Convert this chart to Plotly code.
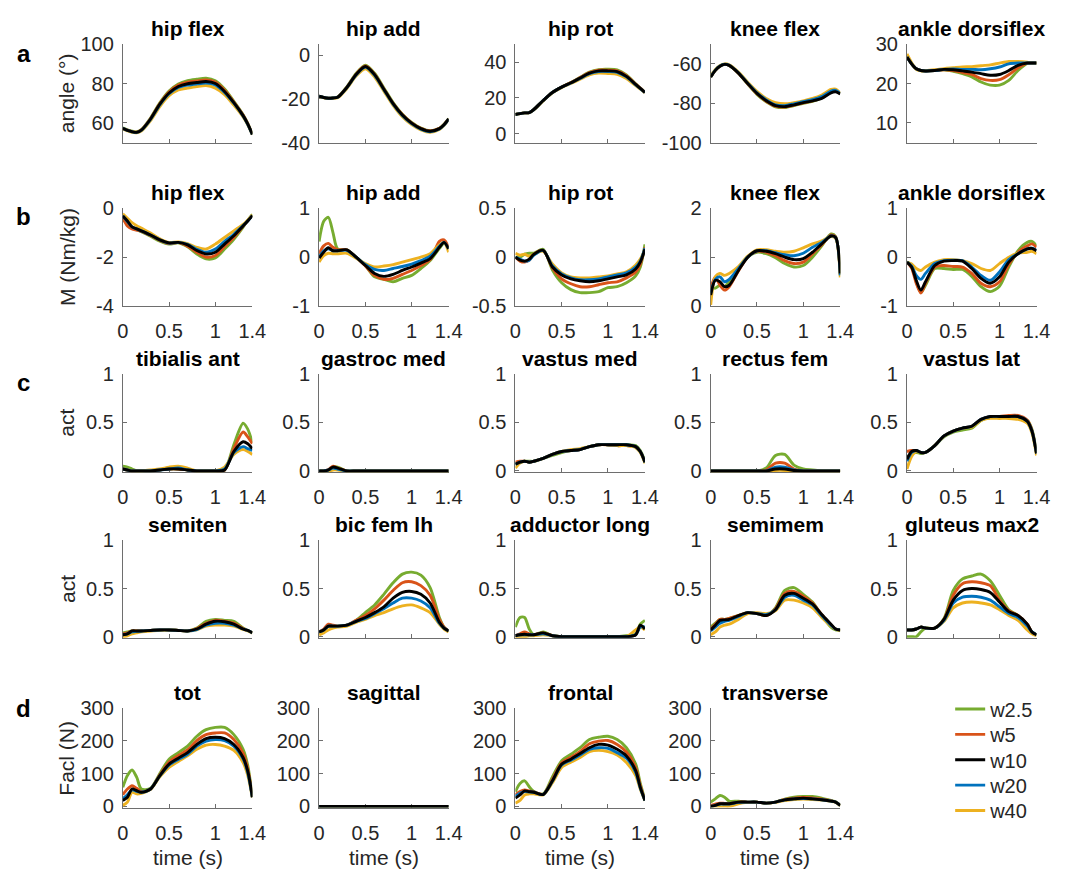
import plotly.graph_objects as go

# ---------------- data ----------------
T = [0, 0.05, 0.1, 0.15, 0.2, 0.3, 0.4, 0.5, 0.6, 0.7, 0.8, 0.9, 1.0, 1.1, 1.2, 1.3, 1.35, 1.4]
SERIES = ["w2.5", "w5", "w10", "w20", "w40"]
COLORS = {"w2.5": "#77AC30", "w5": "#D95319", "w10": "#000000", "w20": "#0072BD", "w40": "#EDB120"}
DRAW_ORDER = ["w2.5", "w5", "w40", "w20", "w10"]
X_TICKS = [0, 0.5, 1, 1.4]
X_TICKTEXT = ["0", "0.5", "1", "1.4"]

# a: joint angles (deg)
angle_hip_flex = {
    "w2.5": [57.5, 56.5, 55.8, 55.5, 56.6, 62.5, 70.2, 76.2, 79.8, 81.5, 82.2, 82.7, 81.4, 77.2, 71.0, 64.2, 59.8, 54.3],
    "w5":   [57.3, 56.3, 55.6, 55.3, 56.4, 62.2, 69.8, 75.7, 79.2, 80.7, 81.3, 81.8, 80.7, 76.6, 70.6, 64.0, 59.6, 54.2],
    "w10":  [57.2, 56.2, 55.5, 55.2, 56.3, 62.0, 69.5, 75.2, 78.5, 79.9, 80.5, 81.0, 80.0, 76.0, 70.3, 63.7, 59.5, 54.1],
    "w20":  [57.2, 56.2, 55.5, 55.2, 56.2, 61.8, 69.2, 74.8, 78.0, 79.2, 79.8, 80.2, 79.3, 75.5, 70.0, 63.5, 59.3, 54.1],
    "w40":  [57.0, 56.0, 55.2, 55.0, 55.9, 61.2, 68.3, 73.8, 76.8, 77.7, 78.5, 79.0, 77.7, 74.4, 69.0, 63.0, 59.0, 54.0],
}
angle_hip_add = {
    "w2.5": [-18.8, -19.4, -19.7, -19.6, -19.2, -14.5, -8.4, -4.6, -8.3, -15.0, -21.7, -27.0, -30.8, -33.4, -34.6, -33.4, -31.6, -29.0],
    "w5":   [-18.8, -19.4, -19.7, -19.6, -19.3, -14.7, -8.7, -5.0, -8.7, -15.4, -22.0, -27.2, -31.0, -33.5, -34.7, -33.5, -31.7, -29.1],
    "w10":  [-18.8, -19.4, -19.7, -19.6, -19.3, -14.8, -8.9, -5.2, -8.9, -15.6, -22.2, -27.4, -31.1, -33.6, -34.8, -33.6, -31.8, -29.2],
    "w20":  [-18.8, -19.4, -19.7, -19.6, -19.3, -14.9, -9.1, -5.5, -9.2, -15.8, -22.4, -27.6, -31.3, -33.8, -35.0, -33.8, -32.0, -29.3],
    "w40":  [-18.9, -19.5, -19.8, -19.7, -19.5, -15.3, -9.6, -6.3, -10.0, -16.5, -23.0, -28.2, -31.8, -34.2, -35.3, -34.0, -32.2, -29.5],
}
angle_hip_rot = {
    "w2.5": [10.7, 11.2, 11.6, 11.8, 13.5, 18.5, 23.0, 26.0, 28.6, 31.5, 34.4, 35.8, 36.0, 35.6, 32.8, 27.8, 25.5, 23.1],
    "w5":   [10.7, 11.2, 11.6, 11.8, 13.5, 18.5, 23.0, 26.0, 28.5, 31.3, 34.1, 35.5, 35.5, 35.1, 32.4, 27.7, 25.4, 23.0],
    "w10":  [10.7, 11.2, 11.6, 11.8, 13.5, 18.5, 23.0, 26.0, 28.4, 31.1, 33.8, 35.1, 35.1, 34.7, 32.0, 27.5, 25.3, 23.0],
    "w20":  [10.7, 11.2, 11.6, 11.8, 13.5, 18.5, 23.0, 26.0, 28.3, 30.9, 33.5, 34.7, 34.7, 34.3, 31.7, 27.3, 25.2, 23.0],
    "w40":  [10.7, 11.2, 11.6, 11.8, 13.4, 18.3, 22.8, 25.7, 28.0, 30.4, 32.8, 33.8, 33.6, 33.2, 30.8, 26.8, 24.9, 22.9],
}
angle_knee_flex = {
    "w2.5": [-66.7, -63.3, -61.2, -60.3, -60.8, -64.8, -70.3, -75.5, -79.3, -81.8, -82.2, -81.2, -80.0, -79.0, -77.3, -74.3, -73.8, -75.0],
    "w5":   [-66.7, -63.3, -61.2, -60.3, -60.8, -64.7, -70.1, -75.2, -79.0, -81.5, -81.9, -81.0, -79.8, -78.8, -77.2, -74.3, -73.8, -75.1],
    "w10":  [-66.7, -63.3, -61.2, -60.3, -60.8, -64.7, -70.0, -75.0, -78.7, -81.2, -81.7, -80.8, -79.7, -78.8, -77.5, -74.7, -74.2, -75.3],
    "w20":  [-66.6, -63.2, -61.1, -60.2, -60.7, -64.5, -69.8, -74.7, -78.3, -80.8, -81.2, -80.3, -79.2, -78.2, -76.6, -73.8, -73.5, -75.0],
    "w40":  [-66.2, -62.9, -60.9, -60.0, -60.5, -64.2, -69.3, -74.0, -77.6, -79.7, -80.3, -79.7, -78.8, -77.6, -75.8, -73.0, -72.8, -74.8],
}
angle_ankle_df = {
    "w2.5": [26.7, 25.0, 23.75, 23.3, 23.2, 23.3, 23.5, 23.1, 22.5, 21.7, 20.4, 19.6, 19.6, 20.8, 23.3, 25.1, 25.2, 25.2],
    "w5":   [26.7, 25.0, 23.75, 23.3, 23.2, 23.3, 23.5, 23.3, 22.8, 22.3, 21.25, 20.8, 21.0, 22.25, 24.0, 25.2, 25.2, 25.2],
    "w10":  [26.7, 25.0, 23.75, 23.3, 23.2, 23.3, 23.6, 23.5, 23.2, 22.9, 22.5, 22.1, 22.3, 23.3, 24.6, 25.2, 25.2, 25.2],
    "w20":  [26.7, 25.0, 23.75, 23.3, 23.2, 23.3, 23.6, 23.7, 23.6, 23.6, 23.5, 23.75, 24.2, 25.0, 25.2, 25.2, 25.2, 25.2],
    "w40":  [27.5, 25.3, 23.6, 23.2, 23.3, 23.5, 23.8, 24.0, 24.2, 24.3, 24.5, 24.75, 25.2, 25.6, 25.6, 25.4, 25.2, 25.2],
}

# b: joint moments (Nm/kg)
mom_hip_flex = {
    "w2.5": [-0.47, -0.62, -0.80, -0.88, -0.97, -1.15, -1.35, -1.47, -1.42, -1.58, -1.87, -2.07, -2.03, -1.67, -1.27, -0.78, -0.50, -0.26],
    "w5":   [-0.40, -0.73, -0.85, -0.90, -0.95, -1.12, -1.32, -1.45, -1.41, -1.55, -1.80, -2.00, -1.93, -1.57, -1.20, -0.75, -0.52, -0.30],
    "w10":  [-0.33, -0.53, -0.77, -0.85, -0.93, -1.10, -1.30, -1.42, -1.40, -1.50, -1.73, -1.87, -1.80, -1.47, -1.13, -0.73, -0.53, -0.31],
    "w20":  [-0.33, -0.55, -0.77, -0.85, -0.93, -1.10, -1.30, -1.43, -1.40, -1.48, -1.68, -1.80, -1.67, -1.36, -1.07, -0.72, -0.53, -0.31],
    "w40":  [-0.24, -0.42, -0.60, -0.72, -0.82, -1.02, -1.25, -1.40, -1.38, -1.45, -1.60, -1.67, -1.47, -1.20, -0.93, -0.67, -0.50, -0.30],
}
mom_hip_add = {
    "w2.5": [0.32, 0.73, 0.81, 0.50, 0.17, 0.15, 0.00, -0.17, -0.40, -0.45, -0.50, -0.43, -0.37, -0.23, -0.07, 0.18, 0.28, 0.20],
    "w5":   [0.07, 0.23, 0.28, 0.20, 0.15, 0.15, 0.00, -0.18, -0.37, -0.45, -0.43, -0.35, -0.27, -0.17, -0.05, 0.32, 0.35, 0.20],
    "w10":  [-0.02, 0.10, 0.19, 0.13, 0.13, 0.15, 0.00, -0.17, -0.33, -0.39, -0.35, -0.27, -0.20, -0.12, -0.03, 0.20, 0.30, 0.17],
    "w20":  [0.00, 0.13, 0.17, 0.13, 0.13, 0.14, 0.00, -0.15, -0.25, -0.27, -0.23, -0.19, -0.14, -0.07, 0.02, 0.22, 0.30, 0.17],
    "w40":  [-0.10, 0.03, 0.08, 0.07, 0.07, 0.08, -0.02, -0.13, -0.20, -0.18, -0.15, -0.10, -0.05, 0.00, 0.07, 0.25, 0.30, 0.10],
}
mom_hip_rot = {
    "w2.5": [0.00, 0.00, 0.03, 0.04, 0.04, 0.08, -0.13, -0.26, -0.33, -0.36, -0.36, -0.35, -0.31, -0.30, -0.26, -0.19, -0.10, 0.13],
    "w5":   [0.00, -0.04, -0.05, -0.03, 0.03, 0.07, -0.11, -0.22, -0.27, -0.30, -0.30, -0.28, -0.26, -0.25, -0.21, -0.15, -0.07, 0.10],
    "w10":  [0.00, -0.03, -0.04, -0.02, 0.03, 0.07, -0.10, -0.18, -0.22, -0.24, -0.25, -0.24, -0.22, -0.20, -0.18, -0.12, -0.05, 0.08],
    "w20":  [0.00, -0.02, -0.04, -0.03, 0.02, 0.07, -0.09, -0.17, -0.21, -0.23, -0.23, -0.22, -0.20, -0.18, -0.16, -0.10, -0.04, 0.09],
    "w40":  [0.04, 0.02, 0.03, 0.01, 0.03, 0.06, -0.07, -0.16, -0.20, -0.21, -0.21, -0.20, -0.19, -0.17, -0.15, -0.08, -0.02, 0.08],
}
mom_knee_flex = {
    "w2.5": [0.40, 0.37, 0.43, 0.40, 0.50, 0.77, 1.00, 1.10, 1.07, 0.99, 0.87, 0.80, 0.83, 1.00, 1.23, 1.47, 1.42, 0.65],
    "w5":   [0.37, 0.60, 0.43, 0.33, 0.40, 0.72, 1.00, 1.12, 1.10, 1.03, 0.93, 0.87, 0.90, 1.07, 1.25, 1.45, 1.41, 0.65],
    "w10":  [0.23, 0.53, 0.50, 0.40, 0.43, 0.73, 1.00, 1.13, 1.12, 1.07, 1.00, 0.95, 0.97, 1.10, 1.27, 1.43, 1.40, 0.67],
    "w20":  [0.27, 0.55, 0.60, 0.50, 0.55, 0.77, 1.00, 1.13, 1.13, 1.09, 1.05, 1.03, 1.08, 1.20, 1.30, 1.43, 1.40, 0.63],
    "w40":  [0.03, 0.60, 0.67, 0.63, 0.67, 0.81, 1.02, 1.15, 1.15, 1.12, 1.10, 1.12, 1.19, 1.27, 1.33, 1.42, 1.38, 0.59],
}
mom_ankle_df = {
    "w2.5": [-0.10, -0.15, -0.50, -0.72, -0.57, -0.23, -0.23, -0.25, -0.25, -0.39, -0.60, -0.70, -0.59, -0.20, 0.13, 0.30, 0.32, 0.23],
    "w5":   [-0.10, -0.22, -0.53, -0.73, -0.53, -0.20, -0.17, -0.19, -0.20, -0.33, -0.53, -0.60, -0.50, -0.15, 0.10, 0.23, 0.27, 0.20],
    "w10":  [-0.10, -0.20, -0.47, -0.67, -0.50, -0.17, -0.08, -0.07, -0.08, -0.23, -0.43, -0.53, -0.40, -0.10, 0.07, 0.17, 0.18, 0.13],
    "w20":  [-0.10, -0.18, -0.37, -0.45, -0.33, -0.13, -0.07, -0.06, -0.07, -0.20, -0.37, -0.47, -0.30, -0.05, 0.07, 0.17, 0.18, 0.14],
    "w40":  [-0.10, -0.14, -0.23, -0.27, -0.20, -0.10, -0.05, -0.05, -0.07, -0.13, -0.23, -0.27, -0.13, 0.00, 0.08, 0.10, 0.12, 0.07],
}

# c: muscle activations
act_tib_ant = {
    "w2.5": [0.05, 0.04, 0.02, 0.00, 0.00, 0.00, 0.01, 0.02, 0.02, 0.01, 0.00, 0.00, 0.00, 0.01, 0.27, 0.49, 0.43, 0.29],
    "w5":   [0.02, 0.01, 0.00, 0.00, 0.00, 0.00, 0.01, 0.02, 0.02, 0.01, 0.00, 0.00, 0.00, 0.01, 0.23, 0.40, 0.35, 0.28],
    "w10":  [0.02, 0.01, 0.00, 0.00, 0.00, 0.00, 0.01, 0.02, 0.02, 0.01, 0.00, 0.00, 0.00, 0.01, 0.20, 0.30, 0.28, 0.23],
    "w20":  [0.02, 0.01, 0.00, 0.00, 0.00, 0.00, 0.01, 0.02, 0.03, 0.01, 0.00, 0.00, 0.00, 0.02, 0.19, 0.25, 0.23, 0.21],
    "w40":  [0.02, 0.01, 0.00, 0.00, 0.00, 0.01, 0.02, 0.04, 0.05, 0.03, 0.00, 0.00, 0.00, 0.04, 0.17, 0.22, 0.20, 0.17],
}
act_gastroc_med = {
    "w2.5": [0, 0, 0.010, 0.045, 0.040, 0, 0, 0, 0, 0, 0, 0, 0, 0, 0, 0, 0, 0],
    "w5":   [0, 0, 0.015, 0.050, 0.030, 0, 0, 0, 0, 0, 0, 0, 0, 0, 0, 0, 0, 0],
    "w10":  [0, 0, 0.010, 0.040, 0.030, 0, 0, 0, 0, 0, 0, 0, 0, 0, 0, 0, 0, 0],
    "w20":  [0, 0, 0.010, 0.030, 0.020, 0, 0, 0, 0, 0, 0, 0, 0, 0, 0, 0, 0, 0],
    "w40":  [0, 0, 0.000, 0.010, 0.010, 0, 0, 0, 0, 0, 0, 0, 0, 0, 0, 0, 0, 0],
}
act_vastus_med = {
    "w2.5": [0.07, 0.09, 0.10, 0.10, 0.10, 0.13, 0.16, 0.19, 0.21, 0.22, 0.25, 0.27, 0.27, 0.27, 0.27, 0.26, 0.21, 0.10],
    "w5":   [0.09, 0.10, 0.10, 0.09, 0.10, 0.13, 0.17, 0.20, 0.21, 0.22, 0.25, 0.27, 0.27, 0.26, 0.26, 0.25, 0.20, 0.09],
    "w10":  [0.07, 0.09, 0.10, 0.09, 0.10, 0.13, 0.17, 0.20, 0.21, 0.22, 0.25, 0.27, 0.27, 0.27, 0.27, 0.25, 0.20, 0.09],
    "w20":  [0.07, 0.09, 0.10, 0.09, 0.10, 0.13, 0.17, 0.20, 0.21, 0.22, 0.25, 0.27, 0.27, 0.27, 0.27, 0.25, 0.20, 0.09],
    "w40":  [0.03, 0.08, 0.10, 0.09, 0.10, 0.13, 0.17, 0.20, 0.22, 0.23, 0.25, 0.27, 0.27, 0.26, 0.26, 0.24, 0.19, 0.08],
}
act_rectus_fem = {
    "w2.5": [0, 0, 0, 0, 0, 0, 0, 0, 0.03, 0.16, 0.17, 0.06, 0.02, 0.01, 0, 0, 0, 0],
    "w5":   [0, 0, 0, 0, 0, 0, 0, 0, 0.01, 0.08, 0.08, 0.02, 0.00, 0.00, 0, 0, 0, 0],
    "w10":  [0, 0, 0, 0, 0, 0, 0, 0, 0.00, 0.02, 0.02, 0.005, 0.00, 0.00, 0, 0, 0, 0],
    "w20":  [0, 0, 0, 0, 0, 0, 0, 0, 0.00, 0.04, 0.04, 0.01, 0.00, 0.00, 0, 0, 0, 0],
    "w40":  [0, 0, 0, 0, 0, 0, 0, 0, 0.00, 0.005, 0.005, 0.00, 0.00, 0.00, 0, 0, 0, 0],
}
act_vastus_lat = {
    "w2.5": [0.14, 0.18, 0.19, 0.18, 0.19, 0.26, 0.35, 0.40, 0.42, 0.44, 0.52, 0.55, 0.55, 0.55, 0.55, 0.52, 0.43, 0.19],
    "w5":   [0.20, 0.21, 0.21, 0.19, 0.19, 0.26, 0.36, 0.41, 0.44, 0.46, 0.53, 0.56, 0.56, 0.57, 0.57, 0.52, 0.42, 0.18],
    "w10":  [0.12, 0.20, 0.21, 0.19, 0.19, 0.26, 0.36, 0.41, 0.44, 0.46, 0.53, 0.56, 0.56, 0.56, 0.56, 0.51, 0.41, 0.18],
    "w20":  [0.10, 0.19, 0.21, 0.19, 0.19, 0.26, 0.36, 0.41, 0.44, 0.46, 0.53, 0.56, 0.56, 0.56, 0.56, 0.51, 0.41, 0.18],
    "w40":  [0.02, 0.15, 0.20, 0.19, 0.19, 0.26, 0.36, 0.41, 0.44, 0.45, 0.52, 0.54, 0.54, 0.54, 0.53, 0.49, 0.39, 0.16],
}
act_semiten = {
    "w2.5": [0.04, 0.05, 0.06, 0.06, 0.06, 0.065, 0.07, 0.07, 0.065, 0.06, 0.09, 0.16, 0.18, 0.17, 0.16, 0.09, 0.065, 0.04],
    "w5":   [0.03, 0.04, 0.06, 0.06, 0.06, 0.065, 0.07, 0.07, 0.065, 0.06, 0.085, 0.14, 0.17, 0.16, 0.14, 0.085, 0.065, 0.04],
    "w10":  [0.02, 0.03, 0.06, 0.06, 0.06, 0.065, 0.07, 0.07, 0.065, 0.06, 0.08, 0.13, 0.16, 0.155, 0.13, 0.08, 0.065, 0.04],
    "w20":  [0.02, 0.03, 0.05, 0.055, 0.06, 0.065, 0.07, 0.07, 0.065, 0.06, 0.075, 0.12, 0.14, 0.14, 0.12, 0.08, 0.065, 0.04],
    "w40":  [0.00, 0.01, 0.03, 0.04, 0.05, 0.06, 0.065, 0.07, 0.065, 0.06, 0.07, 0.11, 0.12, 0.12, 0.11, 0.075, 0.06, 0.04],
}
act_bic_fem_lh = {
    "w2.5": [0.05, 0.07, 0.11, 0.11, 0.11, 0.12, 0.17, 0.25, 0.33, 0.44, 0.56, 0.65, 0.67, 0.64, 0.51, 0.20, 0.10, 0.06],
    "w5":   [0.05, 0.08, 0.13, 0.12, 0.11, 0.12, 0.17, 0.22, 0.29, 0.38, 0.48, 0.56, 0.57, 0.53, 0.43, 0.18, 0.10, 0.06],
    "w10":  [0.05, 0.07, 0.11, 0.11, 0.11, 0.12, 0.16, 0.20, 0.25, 0.31, 0.40, 0.46, 0.47, 0.44, 0.35, 0.15, 0.09, 0.06],
    "w20":  [0.05, 0.07, 0.11, 0.11, 0.11, 0.12, 0.16, 0.19, 0.24, 0.29, 0.35, 0.40, 0.40, 0.37, 0.30, 0.14, 0.09, 0.06],
    "w40":  [0.02, 0.04, 0.07, 0.09, 0.10, 0.11, 0.15, 0.18, 0.22, 0.25, 0.29, 0.32, 0.33, 0.30, 0.25, 0.13, 0.08, 0.05],
}
act_adductor_long = {
    "w2.5": [0.10, 0.20, 0.20, 0.08, 0.02, 0.05, 0.01, 0, 0, 0, 0, 0, 0, 0, 0.01, 0.03, 0.13, 0.17],
    "w5":   [0.01, 0.03, 0.05, 0.03, 0.02, 0.04, 0.01, 0, 0, 0, 0, 0, 0, 0, 0.00, 0.02, 0.11, 0.09],
    "w10":  [0.01, 0.02, 0.025, 0.02, 0.02, 0.04, 0.01, 0, 0, 0, 0, 0, 0, 0, 0.00, 0.02, 0.12, 0.08],
    "w20":  [0.01, 0.02, 0.02, 0.02, 0.02, 0.03, 0.01, 0, 0, 0, 0, 0, 0, 0, 0.00, 0.02, 0.10, 0.10],
    "w40":  [0.00, 0.00, 0.00, 0.01, 0.01, 0.02, 0.01, 0, 0, 0, 0, 0, 0, 0, 0.00, 0.07, 0.10, 0.07],
}
act_semimem = {
    "w2.5": [0.10, 0.14, 0.18, 0.18, 0.19, 0.22, 0.25, 0.24, 0.22, 0.30, 0.48, 0.51, 0.44, 0.36, 0.22, 0.10, 0.07, 0.07],
    "w5":   [0.08, 0.13, 0.18, 0.18, 0.19, 0.22, 0.25, 0.24, 0.22, 0.29, 0.45, 0.47, 0.42, 0.35, 0.23, 0.12, 0.08, 0.07],
    "w10":  [0.07, 0.12, 0.17, 0.175, 0.18, 0.22, 0.25, 0.24, 0.22, 0.28, 0.43, 0.45, 0.40, 0.34, 0.23, 0.13, 0.08, 0.07],
    "w20":  [0.06, 0.10, 0.14, 0.16, 0.17, 0.21, 0.25, 0.24, 0.23, 0.28, 0.41, 0.43, 0.38, 0.33, 0.22, 0.12, 0.08, 0.07],
    "w40":  [0.02, 0.05, 0.10, 0.12, 0.13, 0.18, 0.24, 0.25, 0.24, 0.27, 0.38, 0.38, 0.35, 0.30, 0.20, 0.11, 0.08, 0.06],
}
act_glut_max2 = {
    "w2.5": [0.00, 0.00, 0.00, 0.05, 0.09, 0.09, 0.19, 0.48, 0.60, 0.63, 0.65, 0.58, 0.43, 0.28, 0.22, 0.12, 0.05, 0.02],
    "w5":   [0.07, 0.07, 0.08, 0.10, 0.09, 0.09, 0.18, 0.43, 0.55, 0.57, 0.56, 0.53, 0.38, 0.27, 0.22, 0.13, 0.05, 0.02],
    "w10":  [0.07, 0.07, 0.08, 0.10, 0.09, 0.09, 0.18, 0.38, 0.48, 0.50, 0.49, 0.46, 0.36, 0.26, 0.22, 0.13, 0.05, 0.02],
    "w20":  [0.07, 0.07, 0.08, 0.10, 0.09, 0.09, 0.17, 0.35, 0.41, 0.42, 0.41, 0.38, 0.31, 0.24, 0.20, 0.11, 0.05, 0.02],
    "w40":  [0.07, 0.07, 0.08, 0.10, 0.09, 0.09, 0.16, 0.30, 0.35, 0.36, 0.35, 0.33, 0.28, 0.22, 0.17, 0.07, 0.03, 0.01],
}

# d: ACL force (N)
facl_tot = {
    "w2.5": [58, 94, 111, 89, 53, 55, 100, 144, 164, 184, 214, 234, 241, 241, 219, 174, 125, 30],
    "w5":   [36, 53, 63, 55, 45, 53, 96, 135, 155, 172, 201, 219, 224, 224, 204, 162, 115, 29],
    "w10":  [18, 28, 53, 48, 43, 53, 94, 129, 147, 164, 189, 207, 211, 207, 189, 149, 108, 28],
    "w20":  [23, 35, 50, 46, 43, 53, 93, 126, 143, 159, 184, 199, 204, 201, 184, 145, 104, 28],
    "w40":  [3, 13, 43, 38, 40, 52, 90, 119, 137, 154, 174, 187, 189, 184, 171, 134, 95, 27],
}
facl_sagittal = {
    "w2.5": [0] * 18,
    "w5":   [0] * 18,
    "w10":  [0] * 18,
    "w20":  [0] * 18,
    "w40":  [0] * 18,
}
facl_frontal = {
    "w2.5": [45, 70, 78, 60, 45, 38, 90, 139, 159, 179, 204, 211, 214, 204, 179, 129, 70, 20],
    "w5":   [35, 45, 50, 47, 44, 37, 82, 133, 150, 168, 191, 199, 201, 189, 166, 118, 63, 19],
    "w10":  [25, 35, 47, 45, 43, 36, 78, 129, 144, 161, 179, 189, 187, 174, 154, 109, 58, 18],
    "w20":  [30, 40, 45, 44, 43, 36, 77, 126, 141, 157, 174, 179, 177, 164, 147, 104, 56, 18],
    "w40":  [10, 18, 35, 38, 38, 35, 72, 119, 135, 149, 167, 171, 167, 157, 134, 94, 52, 17],
}
facl_transverse = {
    "w2.5": [13, 23, 33, 28, 16, 16, 13, 13, 10, 13, 22, 28, 30, 30, 25, 18, 14, 3],
    "w5":   [3, 7, 10, 9, 8, 13, 13, 13, 10, 13, 21, 25, 27, 26, 22, 17, 13, 3],
    "w10":  [0, 3, 8, 8, 8, 13, 13, 13, 10, 13, 20, 23, 25, 23, 20, 16, 13, 3],
    "w20":  [0, 3, 7, 7, 7, 12, 13, 13, 10, 13, 20, 23, 24, 23, 20, 16, 13, 3],
    "w40":  [0, 0, 0, 0, 0, 8, 12, 13, 10, 12, 18, 21, 22, 21, 19, 15, 12, 2],
}

# (row, col, title, data, y-range, y-ticks, tick texts, show x tick labels)
PANELS = [
    (0, 0, "hip flex", angle_hip_flex, [50, 100], [60, 80, 100], None, False),
    (0, 1, "hip add", angle_hip_add, [-40, 5], [-40, -20, 0], None, False),
    (0, 2, "hip rot", angle_hip_rot, [-5, 50], [0, 20, 40], None, False),
    (0, 3, "knee flex", angle_knee_flex, [-100, -50], [-100, -80, -60], None, False),
    (0, 4, "ankle dorsiflex", angle_ankle_df, [5, 30], [10, 20, 30], None, False),
    (1, 0, "hip flex", mom_hip_flex, [-4, 0], [-4, -2, 0], None, True),
    (1, 1, "hip add", mom_hip_add, [-1, 1], [-1, 0, 1], None, True),
    (1, 2, "hip rot", mom_hip_rot, [-0.5, 0.5], [-0.5, 0, 0.5], ["-0.5", "0", "0.5"], True),
    (1, 3, "knee flex", mom_knee_flex, [0, 2], [0, 1, 2], None, True),
    (1, 4, "ankle dorsiflex", mom_ankle_df, [-1, 1], [-1, 0, 1], None, True),
    (2, 0, "tibialis ant", act_tib_ant, [-0.012, 1], [0, 0.5, 1], ["0", "0.5", "1"], True),
    (2, 1, "gastroc med", act_gastroc_med, [-0.012, 1], [0, 0.5, 1], ["0", "0.5", "1"], True),
    (2, 2, "vastus med", act_vastus_med, [-0.012, 1], [0, 0.5, 1], ["0", "0.5", "1"], True),
    (2, 3, "rectus fem", act_rectus_fem, [-0.012, 1], [0, 0.5, 1], ["0", "0.5", "1"], True),
    (2, 4, "vastus lat", act_vastus_lat, [-0.012, 1], [0, 0.5, 1], ["0", "0.5", "1"], True),
    (3, 0, "semiten", act_semiten, [-0.012, 1], [0, 0.5, 1], ["0", "0.5", "1"], False),
    (3, 1, "bic fem lh", act_bic_fem_lh, [-0.012, 1], [0, 0.5, 1], ["0", "0.5", "1"], False),
    (3, 2, "adductor long", act_adductor_long, [-0.012, 1], [0, 0.5, 1], ["0", "0.5", "1"], False),
    (3, 3, "semimem", act_semimem, [-0.012, 1], [0, 0.5, 1], ["0", "0.5", "1"], False),
    (3, 4, "gluteus max2", act_glut_max2, [-0.012, 1], [0, 0.5, 1], ["0", "0.5", "1"], False),
    (4, 0, "tot", facl_tot, [-3.5, 300], [0, 100, 200, 300], None, True),
    (4, 1, "sagittal", facl_sagittal, [-3.5, 300], [0, 100, 200, 300], None, True),
    (4, 2, "frontal", facl_frontal, [-3.5, 300], [0, 100, 200, 300], None, True),
    (4, 3, "transverse", facl_transverse, [-3.5, 300], [0, 100, 200, 300], None, True),
]
ROW_YLABELS = ["angle (°)", "M (Nm/kg)", "act", "act", "Facl (N)"]
ROW_LETTERS = ["a", "b", "c", None, "d"]

# ---------------- layout geometry (pixels) ----------------
W, H = 1079, 877
COL_PX = [(119, 251), (319, 451), (519, 651), (718, 850), (918, 1050)]
ROW_PX = [(34, 135), (202, 303), (372, 473), (543, 643), (715, 817)]
LETTER_Y = [44, 211, 381, None, 715]
LEGEND_Y = [716, 742, 768, 794, 820]
LEGEND_X = 962

FONT = "Liberation Sans, Arial, Helvetica, sans-serif"
AX_COLOR = "#6e6e6e"
TXT = "#262626"

fig = go.Figure()
layout = {}
annotations = []

for i, (r, c, title, data, yr, yt, ytt, showx) in enumerate(PANELS):
    n = i + 1
    xname = "x" if n == 1 else f"x{n}"
    yname = "y" if n == 1 else f"y{n}"
    x0, x1 = COL_PX[c]
    top, bot = ROW_PX[r]
    layout["xaxis" if n == 1 else f"xaxis{n}"] = dict(
        domain=[x0 / W, x1 / W], anchor=yname, range=[0, 1.4],
        tickvals=X_TICKS, ticktext=X_TICKTEXT, showticklabels=showx,
        ticks="inside", ticklen=4, tickcolor=AX_COLOR, tickwidth=1,
        showline=True, linecolor=AX_COLOR, linewidth=1, mirror=False,
        showgrid=False, zeroline=False, layer="below traces",
        tickfont=dict(family=FONT, size=20, color=TXT), ticklabelstandoff=7,
    )
    layout["yaxis" if n == 1 else f"yaxis{n}"] = dict(
        domain=[1 - bot / H, 1 - top / H], anchor=xname, range=yr,
        tickvals=yt, ticktext=ytt if ytt else [str(v) for v in yt],
        ticks="inside", ticklen=4, tickcolor=AX_COLOR, tickwidth=1,
        showline=True, linecolor=AX_COLOR, linewidth=1, mirror=False,
        showgrid=False, zeroline=False, layer="below traces",
        tickfont=dict(family=FONT, size=20, color=TXT), ticklabelstandoff=4,
    )
    for s in DRAW_ORDER:
        k = SERIES.index(s)
        fig.add_trace(go.Scatter(
            x=T, y=data[s], mode="lines", name=s,
            line=dict(color=COLORS[s], width=2.9, shape="spline", smoothing=0.8),
            xaxis=xname, yaxis=yname,
            showlegend=(n == 1), legend="legend" if k == 0 else f"legend{k + 1}",
            hoverinfo="skip",
        ))
    annotations.append(dict(
        x=(x0 + x1) / 2 / W, y=1 - top / H, xref="paper", yref="paper",
        text=f"<b>{title}</b>", showarrow=False, xanchor="center", yanchor="bottom",
        font=dict(family=FONT, size=21, color="#000000"), yshift=2,
    ))
    if r == 4:
        annotations.append(dict(
            x=(x0 + x1) / 2 / W, y=1 - 868 / H, xref="paper", yref="paper",
            text="time (s)", showarrow=False, xanchor="center", yanchor="middle",
            font=dict(family=FONT, size=21, color=TXT),
        ))

for r in range(5):
    top, bot = ROW_PX[r]
    annotations.append(dict(
        x=62 / W, y=1 - (top + bot) / 2 / H, xref="paper", yref="paper",
        text=ROW_YLABELS[r], showarrow=False, textangle=-90,
        xanchor="center", yanchor="middle",
        font=dict(family=FONT, size=21, color=TXT),
    ))
    if ROW_LETTERS[r]:
        annotations.append(dict(
            x=18 / W, y=1 - LETTER_Y[r] / H, xref="paper", yref="paper",
            text=f"<b>{ROW_LETTERS[r]}</b>", showarrow=False,
            xanchor="center", yanchor="middle",
            font=dict(family=FONT, size=24, color="#000000"),
        ))

for k in range(len(SERIES)):
    key = "legend" if k == 0 else f"legend{k + 1}"
    layout[key] = dict(
        x=LEGEND_X / W, y=1 - LEGEND_Y[k] / H, xanchor="left", yanchor="middle",
        font=dict(family=FONT, size=20, color=TXT),
        bgcolor="rgba(0,0,0,0)", borderwidth=0,
    )

layout.update(dict(
    width=W, height=H,
    margin=dict(l=0, r=0, t=0, b=0),
    paper_bgcolor="white", plot_bgcolor="white",
    annotations=annotations,
    showlegend=True,
))
fig.update_layout(**layout)
fig.write_html("out.html")
